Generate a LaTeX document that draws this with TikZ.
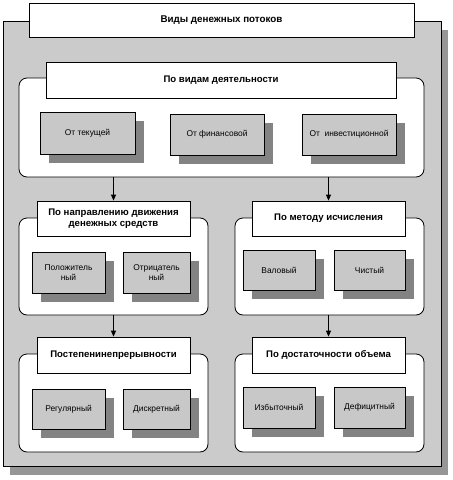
\documentclass[tikz,border=0pt]{standalone}
\usepackage{fontspec}
\setmainfont{Liberation Sans}
\usetikzlibrary{shadows,arrows.meta}
\definecolor{panelgray}{HTML}{CBCBCB}
\definecolor{panelshadow}{HTML}{969696}
\definecolor{boxgray}{HTML}{C8C8C8}
\definecolor{boxshadow}{HTML}{838383}
\tikzset{
  panel/.style={draw=black, line width=0.8pt, fill=panelgray, inner sep=0pt,
    drop shadow={shadow xshift=7pt, shadow yshift=-9pt, fill=panelshadow, opacity=1}},
  titlebox/.style={draw=black, line width=0.8pt, fill=white, inner sep=0pt, font=\bfseries\fontsize{9.8}{11}\selectfont},
  groupbox/.style={draw=black, line width=0.8pt, fill=white, rounded corners=8pt, inner sep=0pt},
  hdr/.style={draw=black, line width=0.8pt, fill=white, inner sep=0pt, align=center,
    font=\bfseries\fontsize{9.6}{11.5}\selectfont},
  itembox/.style={draw=black, line width=0.8pt, fill=boxgray, inner sep=0pt, align=center,
    font=\fontsize{8.4}{10}\selectfont,
    drop shadow={shadow xshift=9pt, shadow yshift=-9pt, fill=boxshadow, opacity=1}},
  flow/.style={draw=black, line width=0.8pt, -{Triangle[length=6pt,width=5pt]}}
}
\begin{document}
\begin{tikzpicture}[x=1pt,y=-1pt]
\useasboundingbox (0,0) rectangle (453,480);
% outer panel
\node[panel, minimum width=438pt, minimum height=445pt] (panel) at (222,243.5) {};
% title
\node[titlebox, minimum width=385pt, minimum height=34pt] (title) at (221.5,20) {Виды денежных потоков};
% section 1
\node[groupbox, minimum width=405pt, minimum height=99pt] (g1) at (221.5,127.5) {};
\node[hdr, minimum width=350pt, minimum height=36pt] (h1) at (221,80) {По видам деятельности};
\node[itembox, minimum width=95pt, minimum height=42pt] (a1) at (87.5,133) {От текущей};
\node[itembox, minimum width=94pt, minimum height=41pt] (a2) at (217,134.5) {От финансовой};
\node[itembox, minimum width=94pt, minimum height=41pt] (a3) at (349,134.5) {От\ \ инвестиционной};
% section 2 left
\node[groupbox, minimum width=189pt, minimum height=97pt] (g2) at (113.5,266.5) {};
\node[hdr, minimum width=153pt, minimum height=35pt] (h2) at (113.5,218.5) {По направлению движения\\денежных средств};
\node[itembox, minimum width=73pt, minimum height=41pt] (b1) at (68.5,272.5) {Положитель\\ный};
\node[itembox, minimum width=67pt, minimum height=41pt] (b2) at (156.5,272.5) {Отрицатель\\ный};
% section 2 right
\node[groupbox, minimum width=189pt, minimum height=97pt] (g3) at (329.5,266.5) {};
\node[hdr, minimum width=153pt, minimum height=35pt] (h3) at (328.5,218.5) {По методу исчисления};
\node[itembox, minimum width=72pt, minimum height=40pt] (c1) at (279,270) {Валовый};
\node[itembox, minimum width=71pt, minimum height=40pt] (c2) at (369.5,270) {Чистый};
% section 3 left
\node[groupbox, minimum width=189pt, minimum height=98pt] (g4) at (113.5,403) {};
\node[hdr, minimum width=153pt, minimum height=36pt] (h4) at (113.5,355) {Постепенинепрерывности};
\node[itembox, minimum width=73pt, minimum height=40pt] (d1) at (68.5,409) {Регулярный};
\node[itembox, minimum width=67pt, minimum height=40pt] (d2) at (156.5,409) {Дискретный};
% section 3 right
\node[groupbox, minimum width=189pt, minimum height=98pt] (g5) at (329.5,403) {};
\node[hdr, minimum width=153pt, minimum height=36pt] (h5) at (328.5,355) {По достаточности объема};
\node[itembox, minimum width=72pt, minimum height=41pt] (e1) at (279,407.5) {Избыточный};
\node[itembox, minimum width=71pt, minimum height=41pt] (e2) at (369.5,407.5) {Дефицитный};
% connectors
\draw[flow] (h2.north |- g1.south) -- (h2.north);
\draw[flow] (h3.north |- g1.south) -- (h3.north);
\draw[flow] (g2.south) -- (h4.north);
\draw[flow] (h5.north |- g3.south) -- (h5.north);
\end{tikzpicture}
\end{document}
